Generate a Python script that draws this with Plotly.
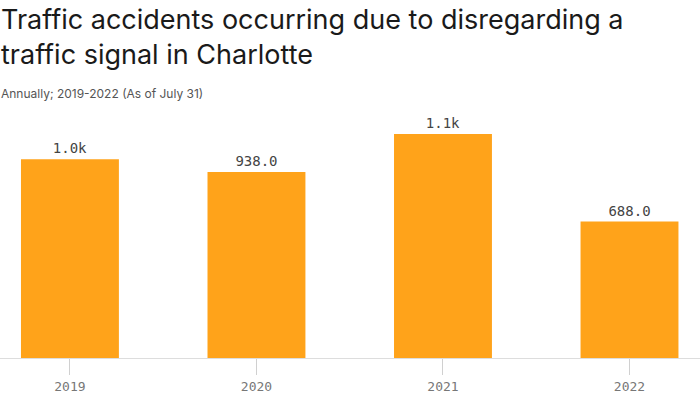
import plotly.graph_objects as go

years = ["2019", "2020", "2021", "2022"]
accidents = [1002, 938, 1130, 688]

def fmt(v):
    return f"{v/1000:.1f}k" if v >= 1000 else f"{v:.1f}"

labels = [fmt(v) for v in accidents]
xpos = list(range(len(years)))

fig = go.Figure(go.Bar(
    x=xpos, y=accidents, width=0.525,
    marker=dict(color="#FFA31A", line=dict(width=0)),
    text=labels, textposition="outside", cliponaxis=False,
    textfont=dict(family="DejaVu Sans Mono", size=14, color="#444"),
    hoverinfo="skip",
))

fig.update_layout(
    width=700, height=394,
    margin=dict(l=0, r=0, t=120, b=33),
    paper_bgcolor="white", plot_bgcolor="white",
    showlegend=False,
    xaxis=dict(
        range=[-0.375, 3.378], tickmode="array", tickvals=xpos, ticktext=years,
        showgrid=False, zeroline=False,
        showline=True, linecolor="#dddddd", linewidth=1,
        ticks="outside", ticklen=16, tickcolor="#d0d0d0",
        tickfont=dict(family="DejaVu Sans Mono", size=13, color="#777"),
    ),
    yaxis=dict(range=[0, 1200], visible=False, showgrid=False, zeroline=False),
    annotations=[
        dict(text="Traffic accidents occurring due to disregarding a<br>traffic signal in Charlotte",
             xref="paper", yref="paper", x=0, y=1, xanchor="left", yanchor="top",
             xshift=-1, yshift=120-1, align="left", showarrow=False,
             font=dict(family="Inter", size=27, color="#1a1a1a")),
        dict(text="Annually; 2019-2022 (As of July 31)",
             xref="paper", yref="paper", x=0, y=1, xanchor="left", yanchor="middle",
             xshift=-1, yshift=120-93, align="left", showarrow=False,
             font=dict(family="Inter", size=12, color="#555")),
    ],
)

fig.write_html("out.html", config={"displayModeBar": False},
               post_script="document.body.style.margin='0';")
